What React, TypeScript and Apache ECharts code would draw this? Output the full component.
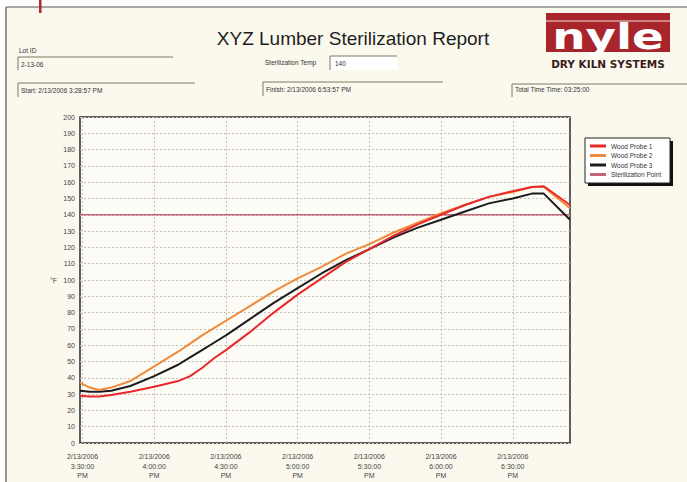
import React, { useEffect, useRef } from "react";
import * as echarts from "echarts";

// minutes after 3:30:00 PM
const times = [-1.05, 3, 7, 12, 20, 30, 40, 45, 50, 55, 60, 70, 80, 90, 100, 110, 120, 130, 140, 150, 160, 170, 180, 188, 193, 203.95];
const probe1 = [29, 28.5, 28.5, 29.5, 31.5, 34.5, 38, 41, 46, 52, 57, 68, 80, 91, 101, 111, 119, 127, 134, 140, 146, 151, 154.5, 157, 157.5, 146];
const probe2 = [37, 34, 32.5, 34, 38, 47, 56, 61, 66, 70.5, 75, 84, 93, 101, 108, 116, 122, 129, 135, 141, 146, 151, 154, 157, 157, 144];
const probe3 = [32, 31.5, 31.5, 32, 35, 41, 48, 52.5, 57, 61.5, 66, 76, 86, 95, 104, 112, 119, 126, 132, 137, 142, 147, 150, 153, 153, 137];
const sterilizationPoint = 140;
const xTicks = [0, 30, 60, 90, 120, 150, 180];
const seriesNames = ["Wood Probe 1", "Wood Probe 2", "Wood Probe 3", "Sterilization Point"];
const startMin = -1.05;
const endMin = 203.95;

const FONT = "Liberation Sans, Arial, sans-serif";

function fmtTime(t: number) {
  const total = Math.round(15 * 60 + 30 + t);
  const h = Math.floor(total / 60) % 12 || 12;
  const m = total % 60;
  return `2/13/2006\n${h}:${m < 10 ? "0" + m : m}:00\nPM`;
}

function txt(x: number, y: number, text: string, size = 6.5, extra: any = {}, el: any = {}) {
  return {
    type: "text",
    x,
    y,
    z: 5,
    ...el,
    style: { text, fontSize: size, fontFamily: FONT, fill: "#333", textVerticalAlign: "middle", ...extra },
  };
}

function field(x: number, y: number, w: number, h: number, fill = "rgba(0,0,0,0)") {
  return [
    { type: "rect", z: 3, shape: { x, y, width: w, height: h }, style: { fill } },
    { type: "line", z: 4, shape: { x1: x, y1: y, x2: x + w, y2: y }, style: { stroke: "#a8a390", lineWidth: 1.5 } },
    { type: "line", z: 4, shape: { x1: x, y1: y, x2: x, y2: y + h }, style: { stroke: "#777", lineWidth: 1 } },
  ];
}

export default function App() {
  const ref = useRef<HTMLDivElement>(null);
  useEffect(() => {
    if (!ref.current) return;
    const chart = echarts.init(ref.current, undefined, { renderer: "svg" });
    const pair = (vals: number[]) => times.map((t, i) => [t, vals[i]]);
    const graphic: any[] = [
      { type: "rect", z: 1, shape: { x: 0, y: 0, width: 687, height: 7 }, style: { fill: "#ffffff" } },
      { type: "rect", z: 1, shape: { x: 0, y: 0, width: 6, height: 482 }, style: { fill: "#ffffff" } },
      { type: "line", z: 2, shape: { x1: 6, y1: 7, x2: 687, y2: 7 }, style: { stroke: "#555", lineWidth: 1.2 } },
      { type: "line", z: 2, shape: { x1: 6, y1: 7, x2: 6, y2: 482 }, style: { stroke: "#555", lineWidth: 1.2 } },
      { type: "rect", z: 2, shape: { x: 39, y: 0, width: 2.5, height: 13 }, style: { fill: "#b3282d" } },
      txt(353, 38, "XYZ Lumber Sterilization Report", 19, { textAlign: "center", fill: "#1e1e1e" }),
      txt(19, 50, "Lot ID"),
      ...field(18, 57, 155, 13),
      txt(21, 64, "2-13-06"),
      txt(265, 62.5, "Sterilization Temp"),
      ...field(330, 56, 67, 14, "#ffffff"),
      txt(335, 63, "140"),
      ...field(18, 83, 177, 14),
      txt(21, 90, "Start: 2/13/2006 3:28:57 PM"),
      ...field(263, 82, 180, 14),
      txt(266, 89.5, "Finish: 2/13/2006 6:53:57 PM"),
      ...field(512, 84, 175, 13),
      txt(515, 89.5, "Total Time Time: 03:25:00"),
      // logo
      { type: "rect", z: 3, shape: { x: 546, y: 13, width: 124, height: 39 }, style: { fill: "#a8252b" } },
      { type: "line", z: 4, shape: { x1: 546, y1: 21, x2: 670, y2: 21 }, style: { stroke: "#f4dede", lineWidth: 1.2 } },
      txt(0, 0, "nyle", 36, { textAlign: "center", fill: "#ffffff", fontWeight: "bold", fontFamily: "DejaVu Sans, sans-serif" }, { x: 608, y: 36, scaleX: 1.3, scaleY: 1 }),
      txt(608, 64, "DRY KILN SYSTEMS", 10.5, { textAlign: "center", fill: "#3a1c1c", fontWeight: "bold", fontFamily: "DejaVu Sans, sans-serif" }),
      // legend box
      { type: "rect", z: 3, shape: { x: 588, y: 141, width: 85, height: 45 }, style: { fill: "#111" } },
      { type: "rect", z: 4, shape: { x: 585, y: 138, width: 85, height: 45 }, style: { fill: "#ffffff", stroke: "#222", lineWidth: 1 } },
      txt(50, 280, "°F", 7, { fill: "#444" }),
    ];

    chart.setOption({
      animation: false,
      backgroundColor: "#fbf9ee",
      textStyle: { fontFamily: FONT },
      graphic: { elements: graphic },
      grid: {
        left: 80, top: 117, right: 117, bottom: 39,
        outerBoundsMode: "none", containLabel: false,
        show: true, borderColor: "#2a2a2a", borderWidth: 1.5, backgroundColor: "#fcfbf5",
      },
      legend: {
        data: seriesNames,
        orient: "vertical",
        left: 588,
        top: 140,
        z: 10,
        itemWidth: 16,
        itemHeight: 3,
        itemGap: 1.5,
        icon: "rect",
        padding: [2, 2, 2, 2],
        textStyle: { fontSize: 6.5, color: "#333", lineHeight: 8, fontFamily: FONT },
      },
      xAxis: {
        type: "value",
        min: startMin,
        max: endMin,
        axisLine: { show: false },
        axisTick: { show: false, customValues: xTicks },
        axisLabel: {
          customValues: xTicks,
          formatter: (v: number) => fmtTime(v),
          fontSize: 7,
          lineHeight: 9.5,
          color: "#444",
          margin: 9,
        },
        splitLine: { show: true, lineStyle: { color: "#c4c2b8", type: [2, 2], width: 1 } },
      },
      yAxis: {
        type: "value",
        min: 0,
        max: 200,
        interval: 10,
        axisLine: { show: false },
        axisTick: { show: false },
        axisLabel: { fontSize: 7, color: "#444", margin: 5 },
        splitLine: { show: true, lineStyle: { color: "#c4c2b8", type: [2, 2], width: 1 } },
      },
      series: [
        {
          name: "Sterilization Point",
          type: "line",
          showSymbol: false,
          color: "#c86478",
          lineStyle: { width: 1.5 },
          data: [[startMin, sterilizationPoint], [endMin, sterilizationPoint]],
        },
        { name: "Wood Probe 3", type: "line", showSymbol: false, color: "#1c1c1c", lineStyle: { width: 2 }, data: pair(probe3) },
        { name: "Wood Probe 2", type: "line", showSymbol: false, color: "#ef8a3a", lineStyle: { width: 2 }, data: pair(probe2) },
        { name: "Wood Probe 1", type: "line", showSymbol: false, color: "#e8282a", lineStyle: { width: 2 }, data: pair(probe1) },
      ],
    });
    return () => chart.dispose();
  }, []);
  return <div ref={ref} style={{ position: "absolute", left: 0, top: 0, width: 687, height: 482 }} />;
}
